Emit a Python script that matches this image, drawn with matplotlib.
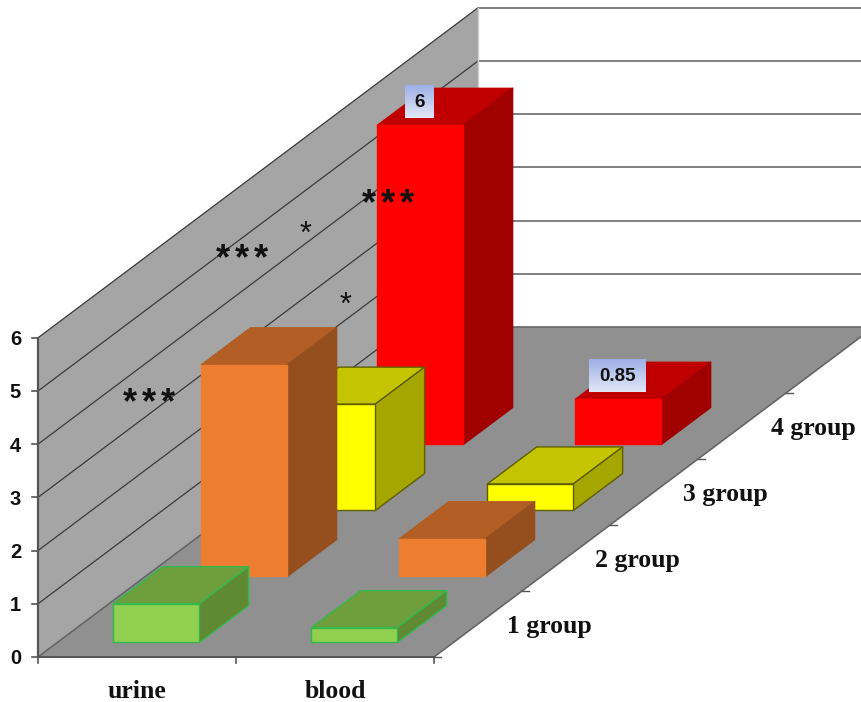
import numpy as np
import matplotlib
matplotlib.use("Agg")
import matplotlib.pyplot as plt
from matplotlib.patches import Polygon

categories = ["urine", "blood"]
groups = ["1 group", "2 group", "3 group", "4 group"]
urine_values = [0.73, 3.98, 2.0, 6.0]
blood_values = [0.28, 0.71, 0.5, 0.85]
value_ticks = [0, 1, 2, 3, 4, 5, 6]
face_colors = ["#92d050", "#ed7d31", "#ffff00", "#ff0000"]
top_colors = ["#6f9e3c", "#b25e25", "#c4c400", "#c00000"]
side_colors = ["#5f8a33", "#954f1e", "#a6a600", "#a00000"]
edge_colors = ["#34b84c", None, "#5f5f00", None]
shown_labels = {(0, 3): "6", (1, 3): "0.85"}

# oblique projection of the 3d chart onto the picture
x0, y0 = 38, 657
cat_w, depth_dx, depth_dy, unit = 198, 88, 66, 53.2
n_depth = 5
bar_w, bar_d = 0.434, 0.56


def proj(cat, depth, value=0):
    return (x0 + cat * cat_w + depth * depth_dx, y0 - depth * depth_dy - value * unit)


def poly(ax, pts, fc, ec="none", lw=0, z=1):
    ax.add_patch(Polygon(pts, closed=True, facecolor=fc, edgecolor=ec, linewidth=lw, zorder=z, joinstyle="round"))


def draw_bar(ax, cat, group, value, idx, z):
    c0 = cat + (1 - bar_w) / 2
    c1 = c0 + bar_w
    d0 = group + (1 - bar_d) / 2
    d1 = d0 + bar_d
    ec = edge_colors[idx]
    poly(ax, [proj(c0, d0, value), proj(c1, d0, value), proj(c1, d1, value), proj(c0, d1, value)],
         top_colors[idx], ec or top_colors[idx], 1.0, z)
    poly(ax, [proj(c1, d0), proj(c1, d1), proj(c1, d1, value), proj(c1, d0, value)],
         side_colors[idx], ec or side_colors[idx], 1.0, z)
    poly(ax, [proj(c0, d0), proj(c1, d0), proj(c1, d0, value), proj(c0, d0, value)],
         face_colors[idx], ec or face_colors[idx], 1.0, z)


fig = plt.figure(figsize=(8.62, 7.02), dpi=100)
ax = fig.add_axes([0, 0, 1, 1])
ax.set_xlim(0, 862)
ax.set_ylim(702, 0)
ax.axis("off")

# left wall and floor
poly(ax, [proj(0, 0), proj(0, n_depth), proj(0, n_depth, 6), proj(0, 0, 6)], "#a5a5a5", z=1)
poly(ax, [proj(0, 0), proj(2, 0), proj(2, n_depth), proj(0, n_depth)], "#909090", "#666666", 1.2, z=1)

# gridlines on both walls
for v in value_ticks[1:]:
    xs, ys = zip(proj(0, 0, v), proj(0, n_depth, v))
    ax.plot(xs, ys, color="#3a3a3a", lw=0.9, zorder=2)
    xs, ys = zip(proj(0, n_depth, v), proj(2, n_depth, v))
    ax.plot(xs, ys, color="#7f7f7f", lw=1.4, zorder=2)
ax.plot(*zip(proj(0, n_depth), proj(0, n_depth, 6)), color="#d0d0d0", lw=1, zorder=2)

# value axis
ax.plot(*zip(proj(0, 0), proj(0, 0, 6)), color="#555555", lw=1.6, zorder=3)
for v in value_ticks:
    x, y = proj(0, 0, v)
    ax.plot([x - 6, x], [y, y], color="#555555", lw=1.2, zorder=3)
    ax.text(x - 22.5, y + 2, str(v), ha="center", va="center", fontsize=14.5, fontweight="bold",
            family="Liberation Sans", color="#111111")

# category axis
ax.plot(*zip(proj(0, 0), proj(2, 0)), color="#555555", lw=1.4, zorder=3)
for c in range(3):
    x, y = proj(c, 0)
    ax.plot([x, x], [y, y + 6], color="#555555", lw=1.2, zorder=3)
for c, name in enumerate(categories):
    x, y = proj(c, 0)
    ax.text(x + 0.5 * cat_w, y + 35, name, ha="center", va="center", fontsize=18.5, fontweight="bold",
            family="Liberation Serif", color="#111111")

# group axis
for g in range(n_depth):
    x, y = proj(2, g)
    ax.plot([x, x + 7], [y, y], color="#555555", lw=1, zorder=3)
for g, name in enumerate(groups):
    x, y = proj(2, g + 0.5)
    ax.text(x + 71, y + 3, name, ha="center", va="center", fontsize=18.5, fontweight="bold",
            family="Liberation Serif", color="#111111")

# bars, back to front
z = 5
for g in range(3, -1, -1):
    draw_bar(ax, 0, g, urine_values[g], g, z)
    draw_bar(ax, 1, g, blood_values[g], g, z + 1)
    z += 2

# value labels with the blue gradient box
grad = np.linspace(0, 1, 32).reshape(-1, 1)
cmap = matplotlib.colors.LinearSegmentedColormap.from_list("lbl", ["#9db0e6", "#e2e7f7"])
for (c, g), txt in shown_labels.items():
    val = [urine_values, blood_values][c][g]
    x, y = proj(c + 0.5, g + 0.5, val)
    w = 29 if len(txt) == 1 else 57
    ax.imshow(grad, extent=[x - w / 2 - 25, x + w / 2 - 25, y + 11, y - 22], cmap=cmap, aspect="auto", zorder=30)
    ax.text(x - 25, y - 4, txt, ha="center", va="center", fontsize=13.5, fontweight="bold",
            family="Liberation Sans", color="#111111", zorder=31)
ax.set_xlim(0, 862)
ax.set_ylim(702, 0)

# significance stars
for sx, sy in [(149, 397), (242, 253), (388, 198)]:
    for off in (-19, 0, 19):
        ax.text(sx + off, sy + 16, "*", ha="center", va="baseline", fontsize=26, fontweight="bold",
                family="Liberation Sans", color="#111111", zorder=40)
for sx, sy in [(306, 230), (346, 301)]:
    ax.text(sx, sy + 13, "*", ha="center", va="baseline", fontsize=22, family="Liberation Sans",
            color="#111111", zorder=40)

fig.savefig("out.png", dpi=100)
